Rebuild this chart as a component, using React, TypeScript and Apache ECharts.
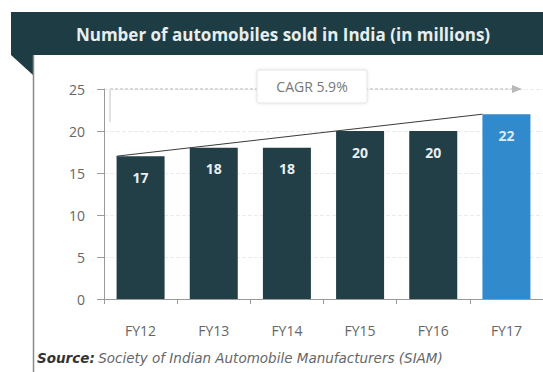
import React, { useEffect, useRef } from "react";
import * as echarts from "echarts";

const categories = ["FY12", "FY13", "FY14", "FY15", "FY16", "FY17"];
const sales = [17, 18, 18, 20, 20, 22];
const yTicks = [0, 5, 10, 15, 20, 25];
const highlightIndex = 5;
const cagrLabel = "CAGR 5.9%";
const titleText = "Number of automobiles sold in India (in millions)";

const DARK = "#223f47";
const BLUE = "#318acb";
const BAR_W = 48;

export default function App() {
  const ref = useRef<HTMLDivElement>(null);
  useEffect(() => {
    document.body.style.margin = "0";
    const chart = echarts.init(ref.current!, null, { renderer: "svg" });
    const option: any = {
      animation: false,
      grid: { left: 104, top: 89, width: 444, height: 210, containLabel: false },
      xAxis: {
        type: "category",
        data: categories,
        axisLine: { lineStyle: { color: "#9a9a9a", width: 1 } },
        axisTick: { show: true, length: 5, lineStyle: { color: "#9a9a9a" } },
        axisLabel: { color: "#666", fontSize: 14, margin: 24, fontFamily: "Open Sans" },
      },
      yAxis: {
        type: "value",
        min: yTicks[0],
        max: yTicks[yTicks.length - 1],
        interval: 5,
        axisLine: { show: true, lineStyle: { color: "#9a9a9a" } },
        axisTick: { show: true, length: 7, lineStyle: { color: "#9a9a9a" } },
        axisLabel: { color: "#666", fontSize: 14, margin: 19, fontFamily: "Open Sans" },
        splitLine: { show: true, lineStyle: { color: "#ececec", type: "dashed" } },
      },
      series: [
        {
          type: "bar",
          barWidth: BAR_W,
          data: sales.map((v, i) => ({
            value: v,
            itemStyle: { color: i === highlightIndex ? BLUE : DARK },
            label: { color: i === highlightIndex ? "#dcebf7" : "#e9eef0" },
          })),
          label: {
            show: true,
            position: "insideTop",
            distance: 14,
            fontSize: 14,
            fontWeight: "bold",
            fontFamily: "Open Sans",
          },
        },
      ],
    };
    chart.setOption(option);

    const p0 = chart.convertToPixel({ gridIndex: 0 }, [0, sales[0]]) as number[];
    const p1 = chart.convertToPixel({ gridIndex: 0 }, [sales.length - 1, sales[sales.length - 1]]) as number[];
    const yTop = (chart.convertToPixel({ gridIndex: 0 }, [0, yTicks[yTicks.length - 1]]) as number[])[1];
    const xStart = p0[0] - BAR_W / 2;
    const xEnd = p1[0] - BAR_W / 2;
    const boxCx = 312;

    chart.setOption({
      graphic: [
        // title bar
        { type: "rect", shape: { x: 11, y: 12, width: 540, height: 43 }, style: { fill: "#1e3c44" }, z: 10 },
        { type: "polygon", shape: { points: [[11, 55], [33, 55], [33, 75]] }, style: { fill: "#1e3c44" }, z: 10 },
        {
          type: "text", x: 283, y: 34, z: 11,
          style: {
            text: titleText, fill: "#e6eeee", fontSize: 17, fontWeight: "bold",
            fontFamily: "Open Sans", align: "center", verticalAlign: "middle",
          },
        },
        // left border line
        { type: "line", shape: { x1: 33.5, y1: 55, x2: 33.5, y2: 372 }, style: { stroke: "#8a8a8a", lineWidth: 1.5 }, z: 10 },
        // CAGR arrow line
        { type: "line", shape: { x1: 110, y1: yTop, x2: 520, y2: yTop }, style: { stroke: "#b8b8b8", lineWidth: 1.2, lineDash: [3, 2] }, z: 5 },
        { type: "polygon", shape: { points: [[512, yTop - 4], [522, yTop], [512, yTop + 4]] }, style: { fill: "#b8b8b8" }, z: 5 },
        { type: "line", shape: { x1: 110, y1: yTop, x2: 110, y2: yTop + 33 }, style: { stroke: "#e2e2e2", lineWidth: 2 }, z: 5 },
        {
          type: "rect", shape: { x: boxCx - 55, y: yTop - 19, width: 110, height: 33, r: 2 },
          style: { fill: "#fff", stroke: "#e3e3e3", lineWidth: 1, shadowBlur: 3, shadowColor: "rgba(0,0,0,0.12)" }, z: 6,
        },
        {
          type: "text", x: boxCx, y: yTop - 3, z: 7,
          style: { text: cagrLabel, fill: "#777", fontSize: 14, fontFamily: "Open Sans", align: "center", verticalAlign: "middle" },
        },
        // trend line
        { type: "line", shape: { x1: xStart, y1: p0[1], x2: xEnd, y2: p1[1] }, style: { stroke: "#3a3a3a", lineWidth: 1 }, z: 8 },
        // source
        {
          type: "text", x: 37, y: 358, z: 11,
          style: {
            text: "{b|Source:} {n|Society of Indian Automobile Manufacturers (SIAM)}",
            verticalAlign: "middle",
            rich: {
              b: { fontFamily: "DejaVu Sans", fontStyle: "italic", fontWeight: "bold", fontSize: 13.5, fill: "#333" },
              n: { fontFamily: "DejaVu Sans", fontStyle: "italic", fontSize: 13.5, fill: "#666" },
            },
          },
        },
      ],
    });
    return () => chart.dispose();
  }, []);
  return <div ref={ref} style={{ width: 543, height: 372 }} />;
}
